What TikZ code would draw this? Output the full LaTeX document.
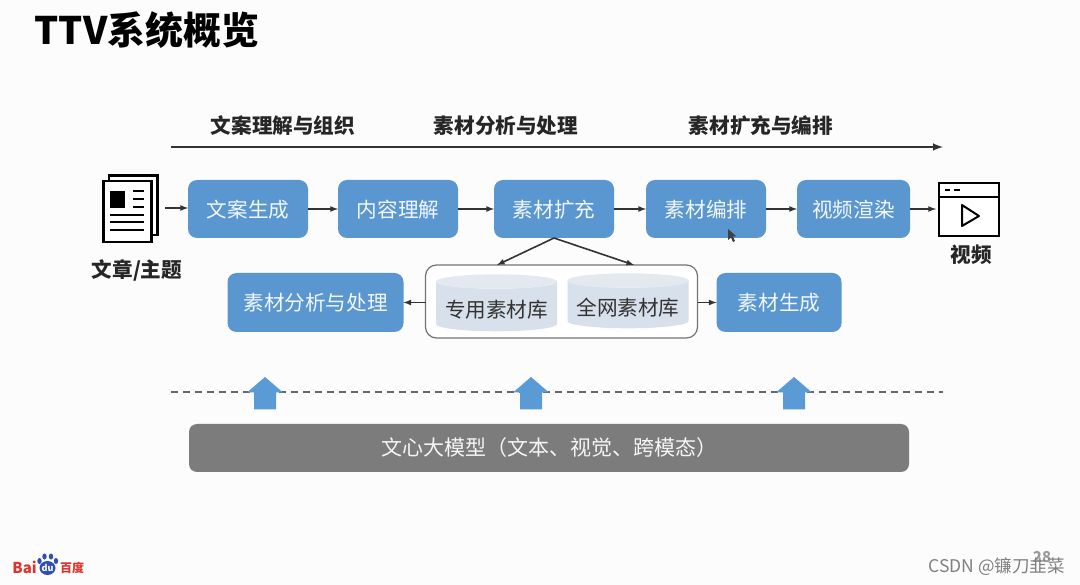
\documentclass[tikz,border=0pt]{standalone}
\usepackage{fontspec}
\setmainfont{Noto Sans CJK SC}
\usetikzlibrary{positioning,shapes.geometric}
\definecolor{boxblue}{HTML}{5A97D0}
\definecolor{arrowblue}{HTML}{5B9BD5}
\definecolor{barGray}{HTML}{7C7C7C}
\definecolor{cylGray}{HTML}{D8E0EB}
\definecolor{cylTop}{HTML}{E4E9F0}
\definecolor{baiduRed}{HTML}{D8372F}
\definecolor{baiduBlue}{HTML}{2F4FB5}
\tikzset{
  box/.style={rectangle,rounded corners=9pt,fill=boxblue,text=white!92!boxblue,
    minimum width=120pt,minimum height=58pt,inner sep=0pt,outer sep=0pt,text height=19pt,text depth=2pt,
    font=\fontsize{20.6}{24}\selectfont},
  stagelabel/.style={font=\fontsize{20.6}{24}\selectfont\bfseries,text=black!85},
  cyl/.style={cylinder,shape border rotate=90,aspect=0.14,cylinder uses custom fill,
    cylinder body fill=cylGray,cylinder end fill=cylTop,minimum width=121pt,
    inner sep=0pt,outer sep=0pt,text height=24pt,text depth=1pt,font=\fontsize{20.6}{24}\selectfont,text=black!80},
  link/.style={->,line width=1.6pt,black!80},
}
\begin{document}
\begin{tikzpicture}[x=1pt,y=-1pt,>=latex]
  \useasboundingbox (0,0) rectangle (1080,585);
  \fill[white!99!black] (0,0) rectangle (1080,585);

  \node (title) [anchor=west,font=\fontsize{37.9}{40}\selectfont\bfseries] at (31,30) {TTV系统概览};

  % stages
  \coordinate (stage1) at (171,147);
  \coordinate (stage2) at (943,147);
  \draw[link,line width=2.4pt] (stage1) -- (stage2);
  \node (s1) [stagelabel] at (283,126) {文案理解与组织};
  \node (s2) [stagelabel] at (506,126) {素材分析与处理};
  \node (s3) [stagelabel] at (761,126) {素材扩充与编排};

  % top row
  \node (wenan) [box] at (248,209) {文案生成};
  \node (neirong) [box,right=30pt of wenan] {内容理解};
  \node (kuochong) [box,right=36pt of neirong] {素材扩充};
  \node (bianpai) [box,right=32pt of kuochong] {素材编排};
  \node (xuanran) [box,right=31pt of bianpai,minimum width=113pt] {视频渲染};

  % second row
  \node (store) [rectangle,rounded corners=11pt,draw=black!55,line width=1.2pt,fill=white,
    minimum width=272pt,minimum height=73pt,outer sep=0pt] at (561.5,301.5) {};
  \node (zhuanyong) [cyl,minimum height=57pt] at (496.5,306.5) {专用素材库};
  \node (quanwang) [cyl,minimum height=55pt] at (628,304.5) {全网素材库};
  \node (fenxi) [box,left=22pt of store,yshift=-1pt,minimum width=176pt,minimum height=59pt] {素材分析与处理};
  \node (shengcheng) [box,right=19pt of store,yshift=-1pt,minimum width=125pt,minimum height=59pt] {素材生成};

  % document icon
  \node (doc) [minimum width=55pt,minimum height=68pt,inner sep=0pt] at (130.5,209) {};
  \draw[line width=2.4pt,fill=white] (109,175.5) -- (157.5,175.5) -- (157.5,235) -- (150,235) -- (150,181) -- (109,181) -- cycle;
  \draw[line width=2.4pt,fill=white] (103.5,181) rectangle (151.5,242);
  \fill (110,191) rectangle (125,208);
  \foreach \y in {191,199,207}
    \draw[line width=2.2pt] (133,\y) -- (144,\y);
  \foreach \y in {215,222,230}
    \draw[line width=2.2pt] (110,\y) -- (144,\y);
  \node (doclabel) [font=\fontsize{20.6}{24}\selectfont\bfseries,text=black!85] at (137,270) {文章/主题};
  \coordinate (docout) at (165,208);

  % video icon
  \node (video) [rectangle,draw,line width=2pt,fill=white,minimum width=60pt,minimum height=53pt,
    inner sep=0pt,outer sep=0pt] at (969,209.5) {};
  \draw[line width=2pt] (939,197) -- (999,197);
  \draw[line width=2pt] (945,190) -- (950,190) (954,190) -- (960,190);
  \draw[line width=2pt,line join=round] (962,205) -- (979,216) -- (962,226) -- cycle;
  \node (videolabel) [font=\fontsize{20.6}{24}\selectfont\bfseries,text=black!85] at (971,255) {视频};
  \coordinate (videoin) at (936,209);

  % connectors
  \path[link] (docout) edge (wenan.west|-docout);
  \path[link] (wenan) edge (neirong);
  \path[link] (neirong) edge (kuochong);
  \path[link] (kuochong) edge (bianpai);
  \path[link] (bianpai) edge (xuanran);
  \path[link] (xuanran) edge (videoin);
  \coordinate (storeleft) at (497,265);
  \coordinate (storeright) at (634,265);
  \path[link] (kuochong.south) edge (storeleft);
  \path[link] (kuochong.south) edge (storeright);
  \path[link] (store.west|-fenxi) edge (fenxi);
  \path[link] (store.east|-shengcheng) edge (shengcheng);

  % model layer
  \coordinate (dash1) at (171,392);
  \coordinate (dash2) at (943,392);
  \draw[line width=1.3pt,black!60,dash pattern=on 7pt off 5pt] (dash1) -- (dash2);
  \foreach \x in {265,531,794}
    \fill[arrowblue] (\x,377) -- ++(18,15.5) -- ++(-7,0) -- ++(0,17) -- ++(-22,0) -- ++(0,-17) -- ++(-7,0) -- cycle;
  \node (model) [rectangle,rounded corners=8pt,fill=barGray,text=white!92!barGray,minimum width=720pt,
    minimum height=48pt,inner sep=0pt,font=\fontsize{21}{24}\selectfont] at (549,448) {文心大模型（文本、视觉、跨模态）};

  % pointer
  \fill[black!75] (728,229) -- (728,240) -- (731,237.5) -- (733,242) -- (735,241) -- (733,236.5) -- (736.5,236.5) -- cycle;

  % logo
  \node (bai) [anchor=east,inner sep=0pt,text=baiduRed,font=\fontsize{15}{16}\selectfont\bfseries] at (37,567) {Bai};
  \node (du) [anchor=west,inner sep=0pt,text=baiduRed,font=\fontsize{12}{14}\selectfont\bfseries] at (60,568) {百度};
  \fill[baiduBlue] (47.5,568) ellipse (8pt and 7pt);
  \fill[baiduBlue] (39.5,561) ellipse (2.2pt and 3pt) (44.5,556.5) ellipse (2.2pt and 3pt)
    (51,556.5) ellipse (2.2pt and 3pt) (56,561) ellipse (2.2pt and 3pt);
  \node (paw) [inner sep=0pt,text=white,font=\fontsize{9}{10}\selectfont\bfseries] at (47.5,568) {du};

  % page number and mark
  \node (page) [text=black!40,font=\fontsize{15}{16}\selectfont\bfseries] at (1042,557) {28};
  \node (mark) [anchor=east,inner sep=0pt,text=black!50,font=\fontsize{17.5}{18}\selectfont] at (1065,567) {CSDN @镰刀韭菜};
\end{tikzpicture}
\end{document}
